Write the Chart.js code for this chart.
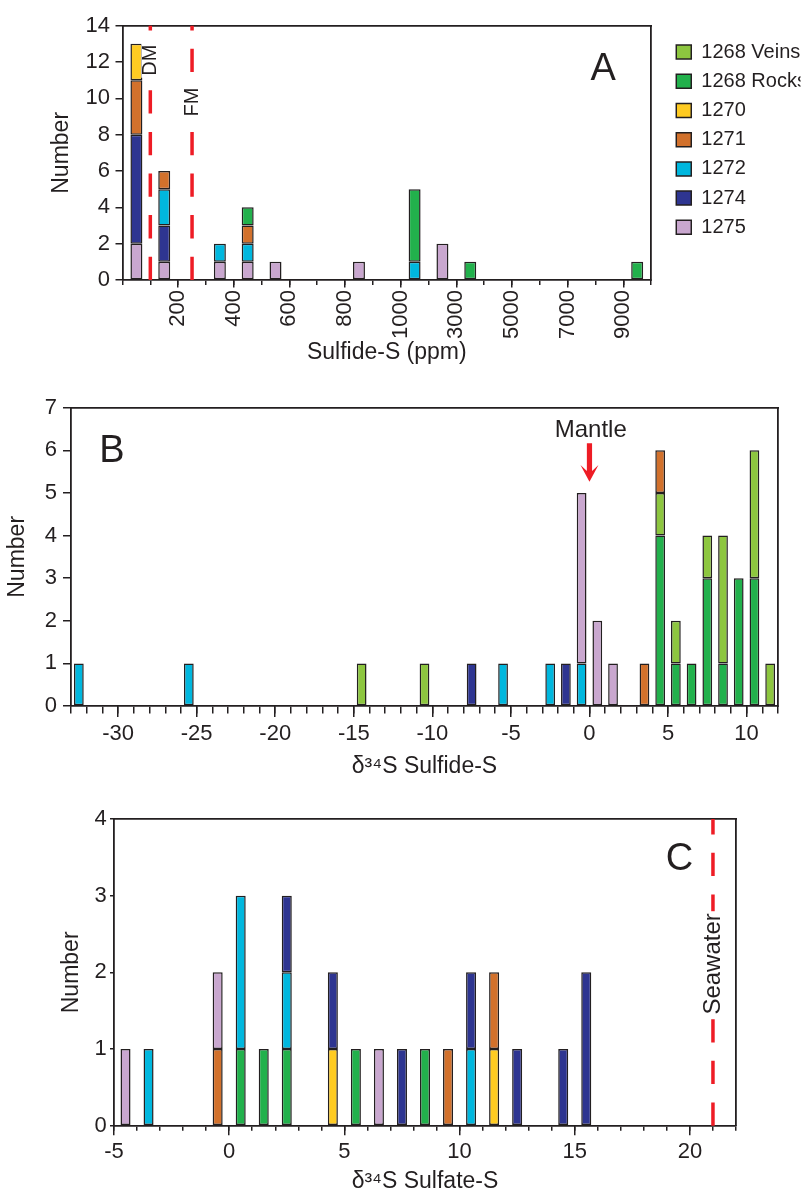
<!DOCTYPE html>
<html>
<head>
<meta charset="utf-8">
<script src="https://cdn.jsdelivr.net/npm/chart.js@4.4.1/dist/chart.umd.min.js"></script>
<style>
html,body{margin:0;padding:0;background:#fff;width:809px;height:1194px;overflow:hidden;position:relative}
canvas{position:absolute;left:0}
</style>
</head>
<body>
<canvas id="cA" width="809" height="380" style="top:0px"></canvas>
<canvas id="cB" width="809" height="410" style="top:380px"></canvas>
<canvas id="cC" width="809" height="404" style="top:790px"></canvas>
<script>
// ================= DATA =================
// Panel A: Sulfide-S concentration histogram, 19 bins (bin index 0..18)
const aBinIndex = [0,1,2,3,4,5,6,7,8,9,10,11,12,13,14,15,16,17,18];
const aTickPos = [2,4,6,8,10,12,14,16,18];
const aTickLabels = ['200','400','600','800','1000','3000','5000','7000','9000'];
const a1268Veins = [0,0,0,0,0,0,0,0,0,0,0,0,0,0,0,0,0,0,0];
const a1268Rocks = [0,0,0,0,1,0,0,0,0,0,4,0,1,0,0,0,0,0,1];
const a1270      = [2,0,0,0,0,0,0,0,0,0,0,0,0,0,0,0,0,0,0];
const a1271      = [3,1,0,0,1,0,0,0,0,0,0,0,0,0,0,0,0,0,0];
const a1272      = [0,2,0,1,1,0,0,0,0,0,1,0,0,0,0,0,0,0,0];
const a1274      = [6,2,0,0,0,0,0,0,0,0,0,0,0,0,0,0,0,0,0];
const a1275      = [2,1,0,1,1,1,0,0,1,0,0,2,0,0,0,0,0,0,0];
const aRefLines  = [{x:1, label:'DM', y:12.1}, {x:2.5, label:'FM', y:9.8}]; // 100 and 250 ppm

// Panel B: delta34S sulfide-S, 1 permil bins (bin centres)
const bCenters   = [-32.5,-25.5,-14.5,-10.5,-7.5,-5.5,-2.5,-1.5,-0.5,0.5,1.5,3.5,4.5,5.5,6.5,7.5,8.5,9.5,10.5,11.5];
const b1268Veins = [0,0,1,1,0,0,0,0,0,0,0,0,1,1,0,1,3,0,3,1];
const b1268Rocks = [0,0,0,0,0,0,0,0,0,0,0,0,4,1,1,3,1,3,3,0];
const b1270      = [0,0,0,0,0,0,0,0,0,0,0,0,0,0,0,0,0,0,0,0];
const b1271      = [0,0,0,0,0,0,0,0,0,0,0,1,1,0,0,0,0,0,0,0];
const b1272      = [1,1,0,0,0,1,1,0,1,0,0,0,0,0,0,0,0,0,0,0];
const b1274      = [0,0,0,0,1,0,0,1,0,0,0,0,0,0,0,0,0,0,0,0];
const b1275      = [0,0,0,0,0,0,0,0,4,2,1,0,0,0,0,0,0,0,0,0];
const bMinorTicks = [-33,-32,-31,-30,-29,-28,-27,-26,-25,-24,-23,-22,-21,-20,-19,-18,-17,-16,-15,-14,-13,-12,-11,-10,-9,-8,-7,-6,-5,-4,-3,-2,-1,0,1,2,3,4,5,6,7,8,9,10,11,12];
const bMajorTicks = [-30,-25,-20,-15,-10,-5,0,5,10];
const bTickLabels = ['-30','-25','-20','-15','-10','-5','0','5','10'];
const bMantle = 0;

// Panel C: delta34S sulfate-S, 1 permil bins (bin centres)
const cCenters   = [-4.5,-3.5,-0.5,0.5,1.5,2.5,4.5,5.5,6.5,7.5,8.5,9.5,10.5,11.5,12.5,14.5,15.5];
const c1268Rocks = [0,0,0,1,1,1,0,1,0,0,1,0,0,0,0,0,0];
const c1270      = [0,0,0,0,0,0,1,0,0,0,0,0,0,1,0,0,0];
const c1271      = [0,0,1,0,0,0,0,0,0,0,0,1,0,1,0,0,0];
const c1272      = [0,1,0,2,0,1,0,0,0,0,0,0,1,0,0,0,0];
const c1274      = [0,0,0,0,0,1,1,0,0,1,0,0,1,0,1,1,2];
const c1275      = [1,0,1,0,0,0,0,0,1,0,0,0,0,0,0,0,0];
const cMinorTicks = [-5,-4,-3,-2,-1,0,1,2,3,4,5,6,7,8,9,10,11,12,13,14,15,16,17,18,19,20,21,22];
const cMajorTicks = [-5,0,5,10,15,20];
const cTickLabels = ['-5','0','5','10','15','20'];
const cSeawater = 21;

const aYTicks = [0,2,4,6,8,10,12,14];
const bYTicks = [0,1,2,3,4,5,6,7];
const cYTicks = [0,1,2,3,4];

// ================= STYLE =================
const FONT = "'Liberation Sans', Arial, Helvetica, sans-serif";
const INK = '#231F20';
const RED = '#EE1C25';
const COLORS = {
  '1268 Veins':'#8DC63F', '1268 Rocks':'#22B14C', '1270':'#FFCB22', '1271':'#D2712C',
  '1272':'#00B7DE', '1274':'#2E3591', '1275':'#C9A7CF'
};
Chart.defaults.font.family = FONT;
Chart.defaults.color = INK;

function datasets(order, xs, values, barPct) {
  return order.map(name => ({
    label: name,
    data: xs.map((x, i) => ({x: x, y: values[name][i]})).filter(p => p.y > 0),
    backgroundColor: COLORS[name], borderColor: INK, borderWidth: 1.5, borderSkipped: false,
    barPercentage: barPct, categoryPercentage: 1, stack: 'all', xAxisID: 'x', yAxisID: 'y'
  }));
}

function scales(c) {
  const tickObjs = arr => arr.map(v => ({value: v}));
  return {
    x: {type:'linear', position:'bottom', min:c.xmin, max:c.xmax, offset:false, weight:0,
        afterBuildTicks: s => { s.ticks = tickObjs(c.minor); },
        afterFit: s => { s.height = 0; },
        grid:{display:true, drawOnChartArea:false, drawTicks:true, tickLength:c.minorLen, offset:false, color:INK, lineWidth:1.5},
        border:{display:true, color:INK, width:1.8},
        ticks:{display:false}},
    xMaj: {type:'linear', axis:'x', position:'bottom', min:c.xmin, max:c.xmax, offset:false, weight:1,
        afterBuildTicks: s => { s.ticks = tickObjs(c.major); },
        afterFit: s => { s.height = c.xHeight; },
        grid:{display:true, drawOnChartArea:false, drawTicks:true, tickLength:c.majorLen, offset:false, color:INK, lineWidth:1.5},
        border:{display:false},
        ticks:{autoSkip:false, minRotation:c.rot, maxRotation:c.rot, padding:c.labelPad, font:{size:22}, color:INK,
               callback:(v, i) => c.labels[i]},
        title:{display:true, text:c.xTitle, font:{size:23, lineHeight:1}, color:INK, padding:{top:0, bottom:c.xTitlePad}}},
    xTop: {type:'linear', axis:'x', position:'top', min:c.xmin, max:c.xmax,
        grid:{display:false}, ticks:{display:false}, border:{display:true, color:INK, width:1.8},
        afterFit: s => { s.height = 0; }},
    y: {type:'linear', position:'left', min:0, max:c.ymax, stacked:true,
        afterBuildTicks: s => { s.ticks = tickObjs(c.yTicks); },
        afterFit: s => { s.width = c.yWidth; },
        grid:{display:true, drawOnChartArea:false, drawTicks:true, tickLength:c.yTickLen, color:INK, lineWidth:1.5},
        border:{display:true, color:INK, width:1.8},
        ticks:{padding:c.yPad, font:{size:22}, color:INK, callback: v => String(v)},
        title:{display:true, text:'Number', font:{size:23, lineHeight:1}, color:INK, padding:{top:c.yTitlePad, bottom:0}}},
    yR: {type:'linear', axis:'y', position:'right', min:0, max:c.ymax,
        grid:{display:false}, ticks:{display:false}, border:{display:true, color:INK, width:1.8},
        afterFit: s => { s.width = c.rightGap; }}
  };
}

const annotations = {
  id: 'panelAnnotations',
  afterDatasetsDraw(chart, args, opts) {
    const ctx = chart.ctx, area = chart.chartArea;
    const xs = chart.scales.x, ys = chart.scales.y;
    (opts.lines || []).forEach(l => {
      const px = xs.getPixelForValue(l.x);
      ctx.save();
      ctx.strokeStyle = RED; ctx.lineWidth = 3.5; ctx.setLineDash([23.3, 18.3]);
      ctx.beginPath(); ctx.moveTo(px, area.bottom); ctx.lineTo(px, area.top); ctx.stroke();
      ctx.restore();
      if (l.label) {
        ctx.save();
        ctx.font = l.size + 'px ' + FONT;
        const w = ctx.measureText(l.label).width;
        ctx.translate(px, ys.getPixelForValue(l.y));
        ctx.rotate(-Math.PI / 2);
        ctx.fillStyle = '#fff';
        ctx.fillRect(-w / 2 - 2, -l.size * 0.45, w + 4, l.size * 0.9);
        ctx.fillStyle = INK; ctx.textAlign = 'center'; ctx.textBaseline = 'middle';
        ctx.fillText(l.label, 0, 0);
        ctx.restore();
      }
    });
    (opts.texts || []).forEach(t => {
      ctx.save();
      ctx.font = t.size + 'px ' + FONT;
      ctx.fillStyle = INK; ctx.textAlign = 'center'; ctx.textBaseline = 'alphabetic';
      ctx.fillText(t.text, xs.getPixelForValue(t.x), ys.getPixelForValue(t.y));
      ctx.restore();
    });
    (opts.arrows || []).forEach(a => {
      const px = xs.getPixelForValue(a.x);
      const y0 = ys.getPixelForValue(a.from), yh = ys.getPixelForValue(a.head), y1 = ys.getPixelForValue(a.to);
      ctx.save();
      ctx.fillStyle = RED;
      ctx.beginPath();
      ctx.moveTo(px - 2.6, y0);
      ctx.lineTo(px - 2.6, yh + 6);
      ctx.lineTo(px - 9, yh);
      ctx.lineTo(px, y1);
      ctx.lineTo(px + 9, yh);
      ctx.lineTo(px + 2.6, yh + 6);
      ctx.lineTo(px + 2.6, y0);
      ctx.closePath();
      ctx.fill();
      ctx.restore();
    });
  }
};

const common = {responsive:false, animation:false, devicePixelRatio:1, events:[]};

// ================= PANEL A =================
new Chart(document.getElementById('cA'), {
  type:'bar',
  data:{datasets: datasets(['1275','1274','1272','1271','1270','1268 Rocks','1268 Veins'],
        aBinIndex.map(i => i + 0.5),
        {'1268 Veins':a1268Veins,'1268 Rocks':a1268Rocks,'1270':a1270,'1271':a1271,'1272':a1272,'1274':a1274,'1275':a1275}, 0.43)},
  options: Object.assign({}, common, {
    layout:{padding:{top:25.7, right:8.5, bottom:0, left:0}},
    scales: scales({xmin:0, xmax:19, minor:aBinIndex.concat([19]), major:aTickPos, labels:aTickLabels,
      minorLen:5, majorLen:7.5, labelPad:2.5, rot:90, xHeight:100, xTitle:'Sulfide-S (ppm)', xTitlePad:15.5,
      ymax:14, yTicks:aYTicks, yWidth:122.5, yTickLen:7, yPad:5.5, yTitlePad:50.5, rightGap:16}),
    plugins:{
      legend:{display:true, position:'right', align:'start', reverse:true,
        title:{display:true, text:'', font:{size:6, lineHeight:1.2}, padding:0},
        labels:{boxWidth:15, boxHeight:14, padding:9.2, font:{size:20}, color:INK}},
      tooltip:{enabled:false},
      panelAnnotations:{
        lines: aRefLines.map(l => ({x:l.x, label:l.label, y:l.y, size:20})),
        texts:[{text:'A', x:17.28, y:11.03, size:38}]
      }
    }
  }),
  plugins:[annotations]
});

// ================= PANEL B =================
new Chart(document.getElementById('cB'), {
  type:'bar',
  data:{datasets: datasets(['1272','1275','1274','1270','1268 Rocks','1268 Veins','1271'], bCenters,
        {'1268 Veins':b1268Veins,'1268 Rocks':b1268Rocks,'1270':b1270,'1271':b1271,'1272':b1272,'1274':b1274,'1275':b1275}, 0.62)},
  options: Object.assign({}, common, {
    layout:{padding:{top:27.7, right:31, bottom:0, left:0}},
    scales: scales({xmin:-33, xmax:12, minor:bMinorTicks, major:bMajorTicks, labels:bTickLabels,
      minorLen:7.5, majorLen:11, labelPad:4.1, rot:0, xHeight:84, xTitle:'\u03B4\u00B3\u2074S Sulfide-S', xTitlePad:12,
      ymax:7, yTicks:bYTicks, yWidth:71, yTickLen:8, yPad:6, yTitlePad:6.2, rightGap:0}),
    plugins:{
      legend:{display:false}, tooltip:{enabled:false},
      panelAnnotations:{
        texts:[{text:'B', x:-30.39, y:5.73, size:38}, {text:'Mantle', x:bMantle + 0.08, y:6.32, size:24}],
        arrows:[{x:bMantle, from:6.165, head:5.656, to:5.264}]
      }
    }
  }),
  plugins:[annotations]
});

// ================= PANEL C =================
new Chart(document.getElementById('cC'), {
  type:'bar',
  data:{datasets: datasets(['1268 Rocks','1272','1270','1271','1274','1275'], cCenters,
        {'1268 Rocks':c1268Rocks,'1270':c1270,'1271':c1271,'1272':c1272,'1274':c1274,'1275':c1275}, 0.435)},
  options: Object.assign({}, common, {
    layout:{padding:{top:29, right:73, bottom:0, left:0}},
    scales: scales({xmin:-5, xmax:22, minor:cMinorTicks, major:cMajorTicks, labels:cTickLabels,
      minorLen:5, majorLen:9.5, labelPad:3.4, rot:0, xHeight:68.3, xTitle:'\u03B4\u00B3\u2074S Sulfate-S', xTitlePad:0.8,
      ymax:4, yTicks:cYTicks, yWidth:114, yTickLen:4, yPad:3.3, yTitlePad:60.2, rightGap:0}),
    plugins:{
      legend:{display:false}, tooltip:{enabled:false},
      panelAnnotations:{
        lines:[{x:cSeawater, label:'Seawater', y:2.11, size:24}],
        texts:[{text:'C', x:19.55, y:3.33, size:38}]
      }
    }
  }),
  plugins:[annotations]
});
</script>
</body>
</html>
